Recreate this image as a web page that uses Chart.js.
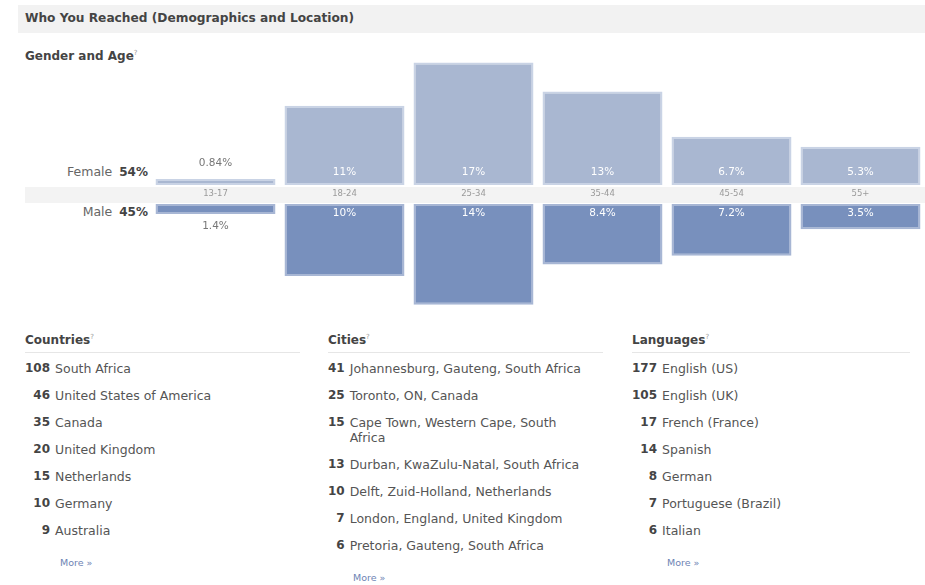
<!DOCTYPE html>
<html>
<head>
<meta charset="utf-8">
<script src="https://cdn.jsdelivr.net/npm/chart.js@4.4.0/dist/chart.umd.min.js"></script>
<style>
  html,body{margin:0;padding:0;background:#fff;}
  body{width:925px;height:585px;position:relative;overflow:hidden;font-family:"DejaVu Sans",sans-serif;color:#333;}
  .hdr{position:absolute;left:18px;top:5px;width:907px;height:28px;background:#f2f2f2;}
  .hdr span{position:absolute;left:7px;top:6px;font-size:12.2px;font-weight:bold;color:#444;}
  .sub{position:absolute;left:25px;top:49px;font-size:12px;font-weight:bold;color:#444;}
  sup{font-size:7px;color:#999;font-weight:normal;}
  .band{position:absolute;left:25px;top:187px;width:900px;height:16px;background:#f3f3f3;}
  .gl{position:absolute;right:777px;font-size:12.5px;color:#666;white-space:nowrap;}
  .gl b{color:#444;margin-left:7px;font-size:12px;}
  canvas{position:absolute;}
  .col{position:absolute;top:333px;width:275px;}
  .col h4{margin:0;font-size:12px;font-weight:bold;color:#444;height:19px;border-bottom:1px solid #e6e6e6;}
  .lst{display:grid;grid-template-columns:auto 1fr;justify-content:start;column-gap:5px;row-gap:12px;margin-top:8px;font-size:12.5px;line-height:15px;}
  .lst .n{text-align:right;font-weight:bold;color:#444;font-size:12px;}
  .lst .t{color:#555;}
  .more{font-size:9.5px;color:#6d84b4;margin-top:19px;}
</style>
</head>
<body>
<div class="hdr"><span>Who You Reached (Demographics and Location)</span></div>
<div class="sub">Gender and Age<sup>?</sup></div>
<div class="band"></div>
<div class="gl" style="top:164px">Female<b>54%</b></div>
<div class="gl" style="top:204px">Male<b>45%</b></div>
<canvas id="fem" width="925" height="144" style="left:0;top:59px;width:925px;height:144px"></canvas>
<canvas id="mal" width="925" height="105" style="left:0;top:204px;width:925px;height:105px"></canvas>

<div class="col" style="left:25px"><h4>Countries<sup>?</sup></h4><div class="lst" id="c1"></div><div class="more" style="margin-left:35px">More »</div></div>
<div class="col" style="left:328px"><h4>Cities<sup>?</sup></h4><div class="lst" id="c2"></div><div class="more" style="margin-left:25px">More »</div></div>
<div class="col" style="left:632px;width:278px"><h4>Languages<sup>?</sup></h4><div class="lst" id="c3"></div><div class="more" style="margin-left:35px">More »</div></div>

<script>
const ageGroups = ["13-17","18-24","25-34","35-44","45-54","55+"];
const femalePct = [0.84, 11, 17, 13, 6.7, 5.3];
const malePct   = [1.4, 10, 14, 8.4, 7.2, 3.5];
const femaleLabels = ["0.84%","11%","17%","13%","6.7%","5.3%"];
const maleLabels   = ["1.4%","10%","14%","8.4%","7.2%","3.5%"];

const countryNames = ["South Africa","United States of America","Canada","United Kingdom","Netherlands","Germany","Australia"];
const countryCounts = [108,46,35,20,15,10,9];
const cityNames = ["Johannesburg, Gauteng, South Africa","Toronto, ON, Canada","Cape Town, Western Cape, South Africa","Durban, KwaZulu-Natal, South Africa","Delft, Zuid-Holland, Netherlands","London, England, United Kingdom","Pretoria, Gauteng, South Africa"];
const cityCounts = [41,25,15,13,10,7,6];
const languageNames = ["English (US)","English (UK)","French (France)","Spanish","German","Portuguese (Brazil)","Italian"];
const languageCounts = [177,105,17,14,8,7,6];

function fill(id, counts, names, w){
  const el = document.getElementById(id);
  el.style.gridTemplateColumns = "auto " + w + "px";
  counts.forEach((c,i)=>{
    const n=document.createElement('div');n.className='n';n.textContent=c;
    const t=document.createElement('div');t.className='t';t.textContent=names[i];
    el.appendChild(n);el.appendChild(t);
  });
}
fill('c1', countryCounts, countryNames, 240);
fill('c2', cityCounts, cityNames, 238);
fill('c3', languageCounts, languageNames, 240);

const labelPlugin = {
  id:'barLabels',
  afterDatasetsDraw(chart){
    const ctx=chart.ctx, meta=chart.getDatasetMeta(0);
    const labs=chart.options.plugins.barLabels.labels;
    const male=chart.options.plugins.barLabels.male;
    ctx.save();
    ctx.font='10.5px "DejaVu Sans", sans-serif';
    ctx.textAlign='center';ctx.textBaseline='middle';
    meta.data.forEach((el,i)=>{
      const h=Math.abs(el.base-el.y);
      if(h>20){
        ctx.fillStyle='#ffffff';
        ctx.fillText(labs[i], el.x, male? el.base+9 : el.base-13);
      }else{
        ctx.fillStyle='#777';
        ctx.fillText(labs[i], el.x, male? el.y+12 : el.y-16);
      }
    });
    ctx.restore();
  }
};

const common = (max, reverse, showX)=>{
  const x = {display:showX, grid:{display:false,drawTicks:false}, border:{display:false},
       ticks:{color:'#9a9a9a',font:{size:8.5,family:'"DejaVu Sans", sans-serif'},padding:4}};
  if(showX) x.afterFit = (s)=>{ s.height=18; };
  return {
    responsive:false, animation:false, maintainAspectRatio:false,
    layout:{padding:{left:151,right:0,top:0,bottom:0}},
    plugins:{legend:{display:false},tooltip:{enabled:false}},
    scales:{ x:x, y:{display:false, min:0, max:max, reverse:reverse} }
  };
};

const fo = common(17.5,false,true);
fo.plugins.barLabels={labels:femaleLabels,male:false};
new Chart(document.getElementById('fem'),{
  type:'bar',
  data:{labels:ageGroups,datasets:[{data:femalePct,backgroundColor:'#a9b7d1',borderColor:'#c9d3e5',borderWidth:2,borderSkipped:false,categoryPercentage:1,barPercentage:0.93}]},
  options:fo, plugins:[labelPlugin]
});
const mo = common(14.6,true,false);
mo.plugins.barLabels={labels:maleLabels,male:true};
new Chart(document.getElementById('mal'),{
  type:'bar',
  data:{labels:ageGroups,datasets:[{data:malePct,backgroundColor:'#7890bd',borderColor:'#a7b6d4',borderWidth:2,borderSkipped:false,categoryPercentage:1,barPercentage:0.93}]},
  options:mo, plugins:[labelPlugin]
});
</script>
</body>
</html>
